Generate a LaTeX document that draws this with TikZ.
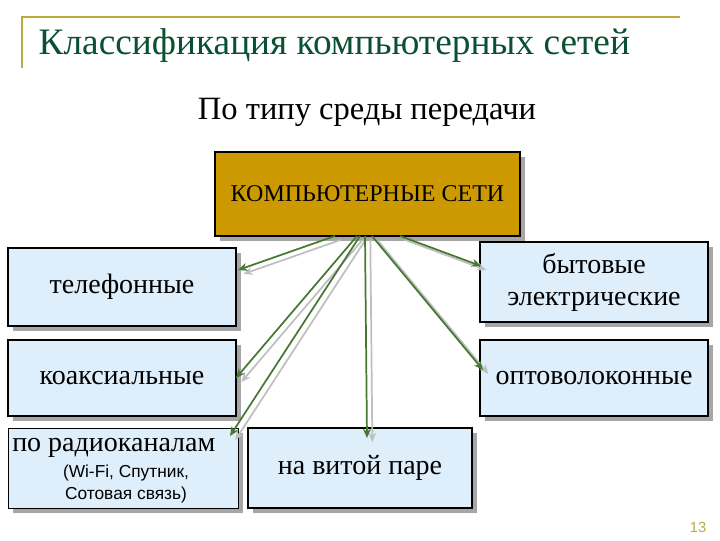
\documentclass[tikz,border=0pt]{standalone}
\usepackage{fontspec}
\setmainfont{Liberation Serif}
\newfontfamily\sansf{Liberation Sans}
\definecolor{gold}{RGB}{204,153,0}
\definecolor{frame}{RGB}{190,170,60}
\definecolor{ttl}{RGB}{10,80,50}
\definecolor{boxb}{RGB}{222,238,250}
\definecolor{arr}{RGB}{70,120,50}
\tikzset{
 bx/.style={draw=black,line width=0.8pt,fill=boxb,align=center,inner sep=0pt,font=\fontsize{21}{24}\selectfont},
 shd/.style={fill=gray!70,draw=none},
 ar/.style={draw=arr,line width=1.3pt,-{Stealth[length=7pt,width=6pt]}},
 ars/.style={draw=gray!50,line width=1.3pt,-{Stealth[length=7pt,width=6pt]}}
}
\usetikzlibrary{arrows.meta}
\begin{document}
\begin{tikzpicture}[x=0.75pt,y=-0.75pt]
\useasboundingbox (0,0) rectangle (720,540);
\draw[frame,line width=1.2pt] (22,68) -- (22,17) -- (680,17);
\node[anchor=west,text=ttl,font=\fontsize{28}{30}\selectfont] (t) at (34,46) {Классификация компьютерных сетей};
\node[font=\fontsize{24.4}{26}\selectfont] (s) at (367,112) {По типу среды передачи};
% shadows
\foreach \a/\b/\c/\d in {215/152/520/236, 8/248/236/326, 8/340/236/416, 8/428/238/508, 248/428/472/508, 480/242/708/322, 480/340/708/416}
 \fill[shd] (\a+5,\b+5) rectangle (\c+5,\d+5);
\node[draw=black,line width=0.8pt,fill=gold,minimum width=228.75pt,minimum height=63pt,font=\fontsize{18}{20}\selectfont] (m) at (367.5,194) {КОМПЬЮТЕРНЫЕ СЕТИ};
\node[bx,minimum width=171pt,minimum height=58.5pt] (tel) at (122,287) {\raisebox{-6pt}{телефонные}};
\node[bx,minimum width=171pt,minimum height=57pt] (koa) at (122,378) {коаксиальные};
\node[bx,minimum width=172.5pt,minimum height=60pt,anchor=north west] (rad) at (8,428) {};
\node[anchor=north west,inner sep=0pt,font=\fontsize{21}{24}\selectfont] (radt) at (12,438) {по радиоканалам};
\node[anchor=north,align=center,inner sep=0pt,font=\sansf\fontsize{13}{16}\selectfont] (radn) at (126,465) {(Wi-Fi, Спутник,\\ Сотовая связь)};
\node[bx,minimum width=168pt,minimum height=60pt] (tw) at (360,468) {\raisebox{-4pt}{на витой паре}};
\node[bx,minimum width=171pt,minimum height=60pt] (byt) at (594,282) {бытовые\\электрические};
\node[bx,minimum width=171pt,minimum height=57pt] (opt) at (594,378) {оптоволоконные};
\coordinate (o1) at (335,236); \coordinate (o2) at (400,236);
\coordinate (o3) at (357,236); \coordinate (o4) at (360,236);
\coordinate (o5) at (365,236); \coordinate (o6) at (372,236);
\coordinate (e1) at (238,270); \coordinate (e2) at (481,266);
\coordinate (e3) at (236,378); \coordinate (e4) at (230,436);
\coordinate (e5) at (367,438); \coordinate (e6) at (483,370);
\foreach \o/\e in {o1/e1,o2/e2,o3/e3,o4/e4,o5/e5,o6/e6}{
 \draw[ars] ([xshift=4pt,yshift=-3pt]\o) -- ([xshift=4pt,yshift=-3pt]\e);
 \draw[ar] (\o) -- (\e);}
\node[text=frame,font=\sansf\fontsize{11}{12}\selectfont] (pn) at (698,527) {13};
\end{tikzpicture}
\end{document}
